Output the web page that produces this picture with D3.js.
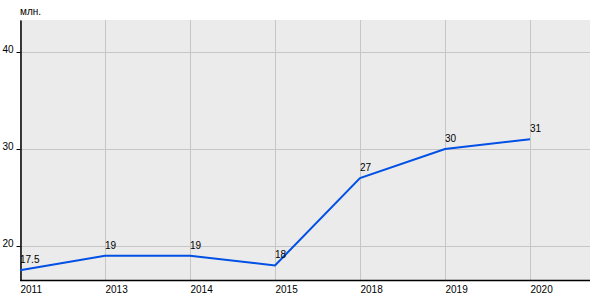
<!DOCTYPE html>
<html>
<head>
<meta charset="utf-8">
<script src="https://cdn.jsdelivr.net/npm/d3@7"></script>
<style>
  body { margin: 0; background: #fff; }
  text { font-family: Arial, "Liberation Sans", sans-serif; font-size: 10px; fill: #000; }
</style>
</head>
<body>
<div class="chart"></div>
<script>
// Data
const years = ["2011", "2013", "2014", "2015", "2018", "2019", "2020"];
const values = [17.5, 19, 19, 18, 27, 30, 31];
const valueLabels = ["17.5", "19", "19", "18", "27", "30", "31"];
const yTicks = [20, 30, 40];
const unitLabel = "млн.";

const width = 600, height = 300;
const margin = { top: 20, right: 10, bottom: 20, left: 20 };
const plotRight = width - margin.right;
const plotBottom = height - margin.bottom;
const fontFamily = "Arial, 'Liberation Sans', sans-serif";

const svg = d3.select(".chart")
    .append("svg")
    .attr("width", width)
    .attr("height", height);

// scales
const x = d3.scalePoint()
    .domain(years)
    .range([margin.left, 530]);

const y = d3.scaleLinear()
    .domain([16.5, 43.3])
    .range([plotBottom, margin.top]);

// plot background
svg.append("rect")
    .attr("x", margin.left)
    .attr("y", margin.top)
    .attr("width", plotRight - margin.left)
    .attr("height", plotBottom - margin.top)
    .attr("fill", "#ebebeb");

// grid
svg.append("g")
    .selectAll("line")
    .data(years)
    .join("line")
    .attr("x1", d => x(d) + 0.5)
    .attr("x2", d => x(d) + 0.5)
    .attr("y1", margin.top)
    .attr("y2", plotBottom)
    .attr("stroke", "#c6c6c6");

svg.append("g")
    .selectAll("line")
    .data(yTicks)
    .join("line")
    .attr("x1", margin.left)
    .attr("x2", plotRight)
    .attr("y1", d => Math.round(y(d)) + 0.5)
    .attr("y2", d => Math.round(y(d)) + 0.5)
    .attr("stroke", "#c6c6c6");

// y axis
const yAxis = svg.append("g")
    .attr("transform", `translate(${margin.left + 0.5},0)`)
    .call(d3.axisLeft(y).tickValues(yTicks).tickSize(4).tickPadding(3).tickSizeOuter(0));
yAxis.select(".domain").attr("stroke", "#000").attr("stroke-width", 1.5);
yAxis.selectAll("text")
    .attr("dy", "0.05em")
    .style("font-family", fontFamily)
    .style("font-size", "10px");

// x axis
const xAxis = svg.append("g")
    .attr("transform", `translate(0,${plotBottom + 0.5})`)
    .call(d3.axisBottom(x).tickSize(0).tickPadding(5));
xAxis.select(".domain").attr("d", `M${margin.left},0H${plotRight}`).attr("stroke", "#000").attr("stroke-width", 1.5);
xAxis.selectAll("text")
    .attr("text-anchor", "start")
    .style("font-family", fontFamily)
    .style("font-size", "10px");

// unit label
svg.append("text")
    .attr("x", margin.left)
    .attr("y", 15)
    .text(unitLabel);

// line
const line = d3.line()
    .x((d, i) => x(years[i]))
    .y(d => y(d));

svg.append("path")
    .datum(values)
    .attr("d", line)
    .attr("fill", "none")
    .attr("stroke", "#0050e6")
    .attr("stroke-width", 2);

// value labels
svg.append("g")
    .selectAll("text")
    .data(values)
    .join("text")
    .attr("x", (d, i) => x(years[i]))
    .attr("y", d => y(d) - 7)
    .text((d, i) => valueLabels[i]);
</script>
</body>
</html>
